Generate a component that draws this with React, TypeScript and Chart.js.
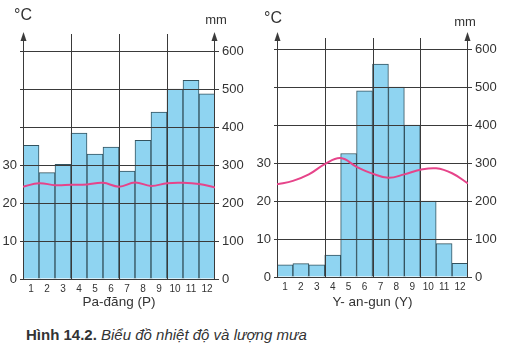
import { useEffect, useRef } from 'react';
import { Chart, registerables } from 'chart.js';

Chart.register(...registerables);

const FONT = "'Liberation Sans', Arial, Helvetica, sans-serif";
Chart.defaults.font.family = FONT;
Chart.defaults.color = '#333';

// ---- data ----
const months = ['1', '2', '3', '4', '5', '6', '7', '8', '9', '10', '11', '12'];
// monthly rainfall (mm)
const rainPadang = [352, 280, 302, 384, 329, 347, 284, 365, 439, 500, 523, 487];
const rainYangon = [32, 35, 32, 58, 325, 490, 560, 500, 400, 200, 88, 36];
// temperature curve (°C), read at the 13 month boundaries 0..12
const tempPadang = [24.3, 25.2, 24.7, 24.8, 24.9, 25.3, 24.3, 25.4, 24.5, 25.2, 25.3, 25.0, 24.1];
const tempYangon = [24.4, 25.3, 27.0, 29.7, 31.3, 29.0, 27.2, 26.1, 27.0, 28.2, 28.6, 27.3, 24.6];
const tempTickLabels = [0, 10, 20, 30];
const rainTicks = [0, 100, 200, 300, 400, 500, 600];
const verticalMarks = [3, 6, 9];

const GRID = '#3a3a3a';
const BAR = '#8fd4f1';
const LINE = '#e6448a';

const decorPlugin = {
  id: 'decor',
  afterDatasetDraw(chart: any, args: any, opts: any) {
    if (args.meta.type !== 'bar') return;
    const { ctx, chartArea: a, scales } = chart;
    const y1 = scales.y1;
    const x2 = scales.x2;
    ctx.save();
    ctx.strokeStyle = GRID;
    ctx.lineWidth = 1;
    ctx.beginPath();
    rainTicks.forEach((v) => {
      const y = Math.round(y1.getPixelForValue(v)) + 0.5;
      ctx.moveTo(a.left, y);
      ctx.lineTo(a.right, y);
    });
    verticalMarks.forEach((k) => {
      const x = Math.round(x2.getPixelForValue(k)) + 0.5;
      ctx.moveTo(x, a.bottom);
      ctx.lineTo(x, a.top - opts.vUp);
    });
    const axesX = [Math.round(a.left) + 0.5, Math.round(a.right) - 0.5];
    axesX.forEach((x) => {
      ctx.moveTo(x, a.bottom + 0.5);
      ctx.lineTo(x, a.top - opts.arrowUp + 6);
    });
    ctx.stroke();
    ctx.fillStyle = GRID;
    axesX.forEach((x) => {
      const tip = a.top - opts.arrowUp;
      ctx.beginPath();
      ctx.moveTo(x, tip);
      ctx.lineTo(x - 3, tip + 9);
      ctx.lineTo(x + 3, tip + 9);
      ctx.closePath();
      ctx.fill();
    });
    ctx.restore();
  },
  afterDraw(chart: any, _args: any, opts: any) {
    const { ctx } = chart;
    ctx.save();
    ctx.fillStyle = '#333';
    ctx.textAlign = 'center';
    ctx.textBaseline = 'middle';
    ctx.font = `16px ${FONT}`;
    ctx.fillText('°C', opts.cX, opts.cY);
    ctx.font = `13px ${FONT}`;
    ctx.fillText('mm', opts.mX, opts.mY);
    ctx.restore();
  },
};

type Props = {
  rain: number[];
  temp: number[];
  title: string;
  width: number;
  height: number;
  leftW: number;
  rightW: number;
  top: number;
  xH: number;
  deco: any;
};

function ClimateChart(p: Props) {
  const ref = useRef<HTMLCanvasElement>(null);
  useEffect(() => {
    if (!ref.current) return;
    const chart = new Chart(ref.current, {
      type: 'bar',
      data: {
        labels: months,
        datasets: [
          {
            type: 'line',
            data: p.temp.map((t, i) => ({ x: i, y: t })) as any,
            xAxisID: 'x2',
            yAxisID: 'y',
            borderColor: LINE,
            borderWidth: 2,
            pointRadius: 0,
            tension: 0.4,
            fill: false,
            order: 0,
          } as any,
          {
            type: 'bar',
            data: p.rain,
            xAxisID: 'x',
            yAxisID: 'y1',
            backgroundColor: BAR,
            borderColor: '#33535f',
            borderWidth: 1,
            barPercentage: 1,
            categoryPercentage: 1,
            grouped: false,
            order: 1,
          } as any,
        ],
      },
      plugins: [decorPlugin as any],
      options: {
        responsive: false,
        animation: false,
        layout: { padding: { top: p.top, left: 0, right: 0, bottom: 0 } },
        plugins: {
          legend: { display: false },
          tooltip: { enabled: false },
          decor: p.deco,
        } as any,
        scales: {
          x: {
            type: 'category',
            offset: true,
            grid: { display: false, drawTicks: false },
            border: { display: false },
            ticks: { font: { size: 10 }, padding: 4, maxRotation: 0, autoSkip: false, color: '#333' },
            title: {
              display: true,
              text: p.title,
              font: { size: 13.5 },
              color: '#333',
              padding: { top: 0, bottom: 5 },
            },
            afterFit: (s: any) => {
              s.height = p.xH;
            },
          },
          x2: {
            type: 'linear',
            display: false,
            offset: false,
            grid: { offset: false },
            min: 0,
            max: 12,
          },
          y: {
            position: 'left',
            min: 0,
            max: 60,
            ticks: {
              stepSize: 10,
              font: { size: 13 },
              padding: 3,
              color: '#333',
              callback: (v: any) => (tempTickLabels.includes(Number(v)) ? String(v) : ''),
            },
            grid: { drawOnChartArea: false, tickLength: 3, color: GRID },
            border: { display: false },
            afterFit: (s: any) => {
              s.width = p.leftW;
            },
          },
          y1: {
            position: 'right',
            min: 0,
            max: 600,
            ticks: { stepSize: 100, font: { size: 13 }, padding: 3, color: '#333' },
            grid: { drawOnChartArea: false, tickLength: 4, color: GRID },
            border: { display: false },
            afterFit: (s: any) => {
              s.width = p.rightW;
            },
          },
        },
      } as any,
    });
    return () => chart.destroy();
  }, []);
  return <canvas ref={ref} width={p.width} height={p.height} style={{ display: 'block', width: p.width, height: p.height }} />;
}

export default function App() {
  return (
    <div style={{ position: 'absolute', left: 0, top: 0, width: 513, height: 351, background: '#fff', overflow: 'hidden' }}>
      <div style={{ position: 'absolute', left: 0, top: 0 }}>
        <ClimateChart
          rain={rainPadang}
          temp={tempPadang}
          title="Pa-đăng (P)"
          width={256}
          height={315}
          leftW={23}
          rightW={41}
          top={51}
          xH={36}
          deco={{ arrowUp: 19, vUp: 17, cX: 23, cY: 16, mX: 216, mY: 20 }}
        />
      </div>
      <div style={{ position: 'absolute', left: 256, top: 0 }}>
        <ClimateChart
          rain={rainYangon}
          temp={tempYangon}
          title="Y- an-gun (Y)"
          width={257}
          height={315}
          leftW={21}
          rightW={45}
          top={49}
          xH={38}
          deco={{ arrowUp: 17, vUp: 11, cX: 17, cY: 19, mX: 209, mY: 22 }}
        />
      </div>
      <div
        style={{
          position: 'absolute',
          left: 26,
          top: 326,
          fontFamily: FONT,
          fontSize: 15,
          lineHeight: '17px',
          color: '#333',
          whiteSpace: 'nowrap',
        }}
      >
        <b>Hình 14.2.</b> <i>Biểu đồ nhiệt độ và lượng mưa</i>
      </div>
    </div>
  );
}
